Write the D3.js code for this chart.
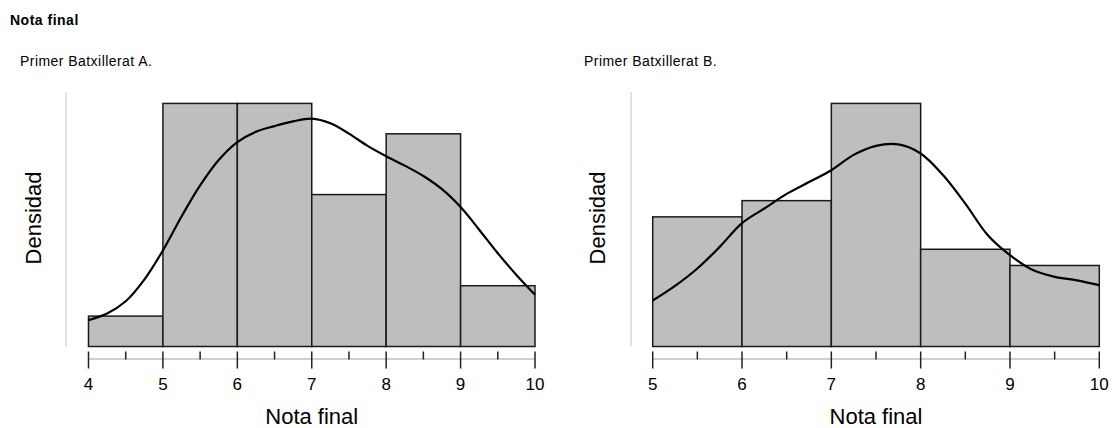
<!DOCTYPE html>
<html>
<head>
<meta charset="utf-8">
<script src="https://cdn.jsdelivr.net/npm/d3@7"></script>
<style>
  body { margin: 0; background: #fff; }
  text { font-family: "Liberation Sans", Arial, sans-serif; fill: #000; }
</style>
</head>
<body>
<svg id="chart" width="1112" height="428"></svg>
<script>
// histogram bins and counts
var edgesA = [4, 5, 6, 7, 8, 9, 10];
var countsA = [1, 8, 8, 5, 7, 2];
var edgesB = [5, 6, 7, 8, 9, 10];
var countsB = [8, 9, 15, 6, 5];

// density curves (x, density)
var kdeXA = [4, 4.25, 4.5, 4.75, 5, 5.25, 5.5, 5.75, 6, 6.25, 6.5, 6.75, 7, 7.25, 7.5, 7.75, 8, 8.25, 8.5, 8.75, 9, 9.25, 9.5, 9.75, 10];
var kdeYA = [0.028, 0.035, 0.048, 0.071, 0.102, 0.138, 0.171, 0.198, 0.217, 0.228, 0.234, 0.239, 0.242, 0.237, 0.226, 0.213, 0.202, 0.192, 0.181, 0.167, 0.148, 0.124, 0.099, 0.076, 0.055];
var kdeXB = [5, 5.25, 5.5, 5.75, 6, 6.25, 6.5, 6.75, 7, 7.25, 7.5, 7.75, 8, 8.25, 8.5, 8.75, 9, 9.25, 9.5, 9.75, 10];
var kdeYB = [0.066, 0.087, 0.112, 0.143, 0.177, 0.198, 0.219, 0.236, 0.253, 0.275, 0.288, 0.290, 0.277, 0.246, 0.205, 0.160, 0.131, 0.110, 0.100, 0.095, 0.088];

var ticksA = [4, 5, 6, 7, 8, 9, 10];
var ticksB = [5, 6, 7, 8, 9, 10];

var title = "Nota final";
var xLabel = "Nota final";
var yLabel = "Densidad";
var groupA = "Primer Batxillerat A.";
var groupB = "Primer Batxillerat B.";

var svg = d3.select("#chart");

svg.append("text")
  .attr("x", 10).attr("y", 25)
  .style("font-size", "14px").style("font-weight", "bold")
  .style("letter-spacing", "0.5px")
  .text(title);

function drawPanel(opt) {
  var n = d3.sum(opt.counts);
  var bins = opt.counts.map(function(c, i) {
    var w = opt.edges[i + 1] - opt.edges[i];
    return { x0: opt.edges[i], x1: opt.edges[i + 1], d: c / (n * w) };
  });
  var maxD = d3.max(bins, function(b) { return b.d; });

  var x = d3.scaleLinear().domain(d3.extent(opt.edges)).range(opt.xr);
  var y = d3.scaleLinear().domain([0, maxD * 1.047]).range([346.5, 92]);

  var g = svg.append("g");

  g.append("text")
    .attr("x", opt.subX).attr("y", 66)
    .style("font-size", "14px")
    .style("letter-spacing", "0.45px")
    .text(opt.name);

  // y axis: faint line, no ticks
  g.append("line")
    .attr("x1", opt.yAxisX).attr("x2", opt.yAxisX)
    .attr("y1", y.range()[1]).attr("y2", y(0))
    .attr("stroke", "#d9d9d9").attr("stroke-width", 1.5);

  g.append("text")
    .attr("transform", "translate(" + opt.yLabelX + "," + 218 + ") rotate(-90)")
    .attr("text-anchor", "middle")
    .style("font-size", "22px")
    .text(yLabel);

  g.selectAll("rect.bar")
    .data(bins)
    .enter().append("rect")
    .attr("class", "bar")
    .attr("x", function(b) { return x(b.x0); })
    .attr("width", function(b) { return x(b.x1) - x(b.x0); })
    .attr("y", function(b) { return y(b.d); })
    .attr("height", function(b) { return y(0) - y(b.d); })
    .attr("fill", "#bebebe")
    .attr("stroke", "#1a1a1a")
    .attr("stroke-width", 1.5);

  var pts = opt.kx.map(function(v, i) { return [v, opt.ky[i]]; });
  g.append("path")
    .datum(pts)
    .attr("fill", "none")
    .attr("stroke", "#000")
    .attr("stroke-width", 2.2)
    .attr("d", d3.line()
      .x(function(d) { return x(d[0]); })
      .y(function(d) { return y(d[1]); })
      .curve(d3.curveCatmullRom));

  // x axis
  var ax = g.append("g");
  ax.append("line")
    .attr("x1", x.range()[0]).attr("x2", x.range()[1])
    .attr("y1", 359).attr("y2", 359)
    .attr("stroke", "#d0d0d0").attr("stroke-width", 2);

  var minor = d3.range(opt.ticks[0] + 0.5, opt.ticks[opt.ticks.length - 1], 1);
  ax.selectAll("line.minor")
    .data(minor)
    .enter().append("line")
    .attr("class", "minor")
    .attr("x1", x).attr("x2", x)
    .attr("y1", 351.5).attr("y2", 359.5)
    .attr("stroke", "#222").attr("stroke-width", 1.5);

  ax.selectAll("line.major")
    .data(opt.ticks)
    .enter().append("line")
    .attr("class", "major")
    .attr("x1", x).attr("x2", x)
    .attr("y1", 351.5).attr("y2", 368.5)
    .attr("stroke", "#222").attr("stroke-width", 1.5);

  ax.selectAll("text.tick")
    .data(opt.ticks)
    .enter().append("text")
    .attr("class", "tick")
    .attr("x", x).attr("y", 390)
    .attr("text-anchor", "middle")
    .style("font-size", "17px")
    .text(function(d) { return d; });

  g.append("text")
    .attr("x", (x.range()[0] + x.range()[1]) / 2).attr("y", 424)
    .attr("text-anchor", "middle")
    .style("font-size", "22px")
    .text(xLabel);
}

drawPanel({ name: groupA, edges: edgesA, counts: countsA, kx: kdeXA, ky: kdeYA, ticks: ticksA,
  xr: [88.5, 535], yAxisX: 66, yLabelX: 41, subX: 20 });
drawPanel({ name: groupB, edges: edgesB, counts: countsB, kx: kdeXB, ky: kdeYB, ticks: ticksB,
  xr: [652.7, 1099.3], yAxisX: 631, yLabelX: 605, subX: 584 });
</script>
</body>
</html>
